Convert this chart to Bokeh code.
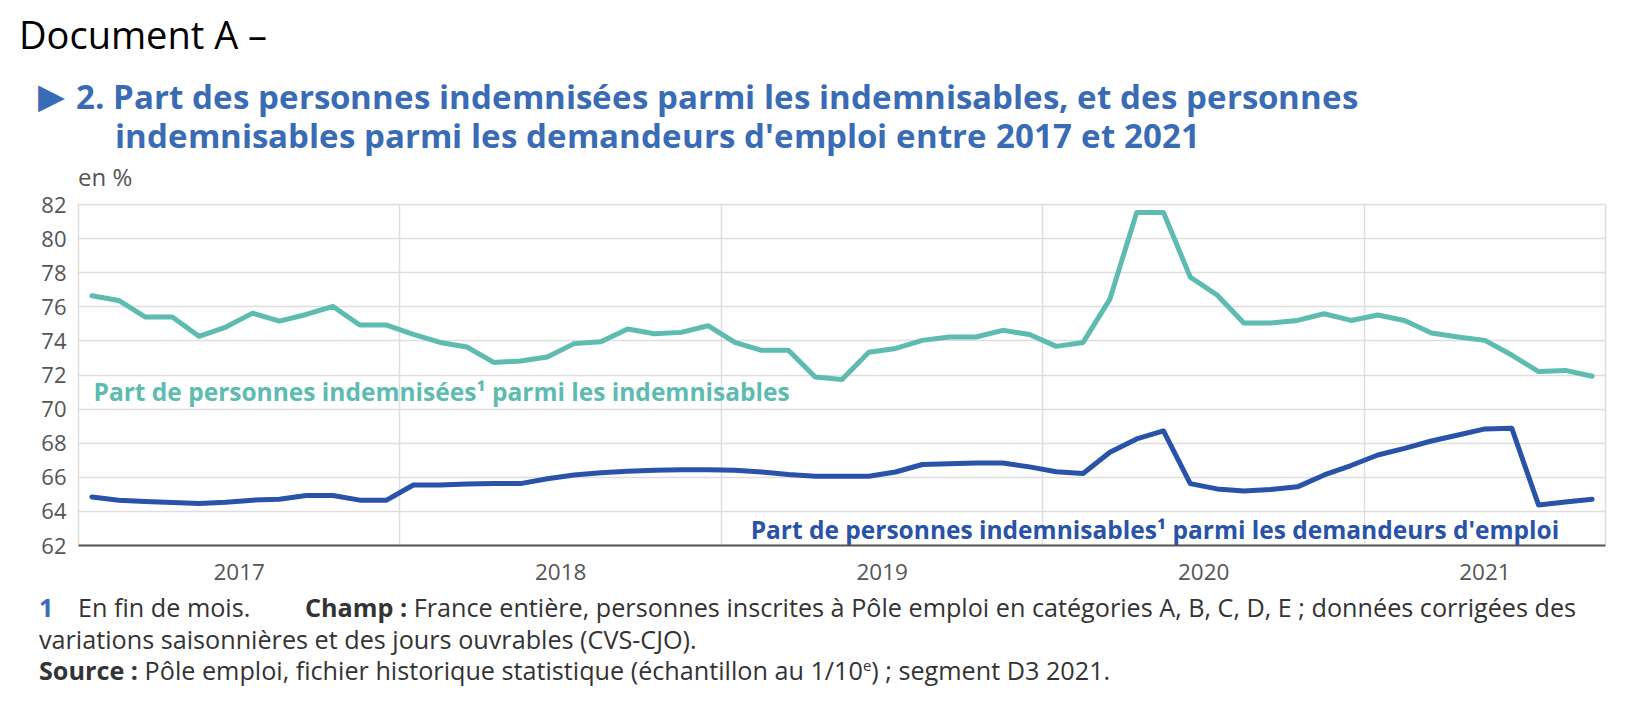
from bokeh.plotting import figure
from bokeh.models import Label, FixedTicker, ColumnDataSource, Div
from bokeh.layouts import column
from bokeh.embed import file_html
from bokeh.resources import INLINE

# ---- data (monthly, Jan 2017 .. Sep 2021) ----
year_labels = ["2017", "2018", "2019", "2020", "2021"]
months_per_year = [12, 12, 12, 12, 9]

part_indemnisees = [76.65, 76.37, 75.4, 75.4, 74.27, 74.81, 75.63, 75.16, 75.55, 76.02,
                    74.93, 74.93, 74.38, 73.91, 73.64, 72.74, 72.82, 73.05, 73.84, 73.95,
                    74.7, 74.42, 74.5, 74.89, 73.91, 73.45, 73.45, 71.88, 71.73, 73.33,
                    73.56, 74.03, 74.23, 74.23, 74.62, 74.38, 73.68, 73.91, 76.45, 81.53,
                    81.53, 77.74, 76.69, 75.05, 75.05, 75.2, 75.59, 75.2, 75.52, 75.2,
                    74.46, 74.23, 74.03, 73.17, 72.2, 72.27, 71.93]

part_indemnisables = [64.85, 64.66, 64.58, 64.52, 64.46, 64.54, 64.66, 64.71, 64.93, 64.93,
                      64.66, 64.66, 65.55, 65.55, 65.61, 65.63, 65.63, 65.91, 66.14, 66.26,
                      66.36, 66.41, 66.45, 66.45, 66.41, 66.31, 66.16, 66.06, 66.06, 66.06,
                      66.31, 66.75, 66.8, 66.84, 66.84, 66.61, 66.33, 66.22, 67.47, 68.25,
                      68.72, 65.63, 65.32, 65.2, 65.28, 65.44, 66.14, 66.69, 67.31, 67.7,
                      68.13, 68.48, 68.84, 68.88, 64.38, 64.55, 64.71]

y_ticks = list(range(62, 83, 2))

# ---- derived positions ----
n = len(part_indemnisees)
months = list(range(n))
starts = []
s = 0
for m in months_per_year:
    starts.append(s)
    s += m
centers = [st + (m - 1) / 2 for st, m in zip(starts, months_per_year)]
boundaries = [st - 0.5 for st in starts[1:]]

TEAL = "#5dbbaf"
BLUE = "#2853a8"
TITLE_BLUE = "#3a6bb5"
GRID = "#dddddd"
GREY = "#555555"
TXT = "#333333"
FONT = "Open Sans"

W = 1626
TOP_H = 187
BOT_H = 96
FIG_H = 403

# ---- header ----
header_html = f"""
<div style="position:relative;width:{W}px;height:{TOP_H}px;font-family:'Open Sans',sans-serif;">
  <div style="position:absolute;left:19px;top:9px;font-size:38px;line-height:50px;color:#000;white-space:nowrap;">Document A –</div>
  <div style="position:absolute;left:38px;top:78px;font-size:35px;line-height:36px;color:{TITLE_BLUE};font-family:'DejaVu Sans';white-space:nowrap;">▶</div>
  <div style="position:absolute;left:76px;top:79px;width:1500px;padding-left:39px;text-indent:-39px;font-family:'OSTitle','Open Sans',sans-serif;font-size:33.3px;line-height:39px;font-weight:700;color:{TITLE_BLUE};">2. Part des personnes indemnisées parmi les indemnisables, et des personnes<br>indemnisables parmi les demandeurs d'emploi entre 2017 et 2021</div>
  <div style="position:absolute;left:78px;top:167px;font-size:24px;line-height:20px;color:{GREY};white-space:nowrap;">en %</div>
</div>
"""
header = Div(text=header_html, width=W, height=TOP_H, margin=0)

# ---- chart ----
p = figure(width=W, height=FIG_H, x_range=(-0.5, n - 0.5), y_range=(62, 82),
           min_border_left=78, min_border_right=21, min_border_top=17, min_border_bottom=45,
           toolbar_location=None, output_backend="svg", margin=0,
           background_fill_color="white", border_fill_color="white")
p.outline_line_color = GRID
p.outline_line_width = 1.5

p.xgrid.ticker = FixedTicker(ticks=boundaries)
p.ygrid.ticker = FixedTicker(ticks=y_ticks)
for g in (p.xgrid, p.ygrid):
    g.grid_line_color = GRID
    g.grid_line_width = 1.5

xa = p.xaxis[0]
xa.ticker = FixedTicker(ticks=centers)
xa.major_label_overrides = {c: lab for c, lab in zip(centers, year_labels)}
xa.axis_line_color = GREY
xa.axis_line_width = 2
xa.major_tick_line_color = None
xa.minor_tick_line_color = None
xa.major_tick_out = 0
xa.major_tick_in = 0
xa.major_label_standoff = 18
xa.major_label_text_font = FONT
xa.major_label_text_font_size = "22.5px"
xa.major_label_text_color = GREY

ya = p.yaxis[0]
ya.ticker = FixedTicker(ticks=y_ticks)
ya.axis_line_color = None
ya.major_tick_line_color = None
ya.minor_tick_line_color = None
ya.major_tick_out = 0
ya.major_tick_in = 0
ya.major_label_standoff = 12
ya.major_label_text_font = FONT
ya.major_label_text_font_size = "22px"
ya.major_label_text_color = GREY

src = ColumnDataSource(dict(m=months, a=part_indemnisees, b=part_indemnisables))
p.line(x="m", y="a", source=src, line_color=TEAL, line_width=5, line_join="round", line_cap="round")
p.line(x="m", y="b", source=src, line_color=BLUE, line_width=5, line_join="round", line_cap="round")

p.add_layout(Label(x=0.06, y=71.05, text="Part de personnes indemnisées¹ parmi les indemnisables",
                   text_baseline="middle", text_align="left", text_font=FONT,
                   text_font_size="24.5px", text_font_style="bold", text_color=TEAL))
p.add_layout(Label(x=54.77, y=62.96, text="Part de personnes indemnisables¹ parmi les demandeurs d'emploi",
                   text_baseline="middle", text_align="right", text_font=FONT,
                   text_font_size="24.5px", text_font_style="bold", text_color=BLUE))

# ---- footer ----
footer_html = f"""
<div style="position:relative;width:{W}px;height:{BOT_H}px;font-family:'Open Sans',sans-serif;font-size:25.2px;line-height:30px;color:{TXT};">
  <div style="position:absolute;left:39px;top:2px;color:{TITLE_BLUE};font-weight:700;white-space:nowrap;">1</div>
  <div style="position:absolute;left:78px;top:2px;white-space:nowrap;">En fin de mois.</div>
  <div style="position:absolute;left:305px;top:2px;white-space:nowrap;"><b>Champ :</b> France entière, personnes inscrites à Pôle emploi en catégories A, B, C, D, E ; données corrigées des</div>
  <div style="position:absolute;left:39px;top:34px;white-space:nowrap;">variations saisonnières et des jours ouvrables (CVS-CJO).</div>
  <div style="position:absolute;left:39px;top:65px;white-space:nowrap;"><b>Source :</b> Pôle emploi, fichier historique statistique (échantillon au 1/10<sup style="font-size:15px;line-height:0;">e</sup>) ; segment D3 2021.</div>
</div>
"""
footer = Div(text=footer_html, width=W, height=BOT_H, margin=0)

layout = column(header, p, footer, spacing=0, margin=0)
html = file_html(layout, INLINE)
font_face = ("<style>@font-face{font-family:'OSTitle';"
             "src:local('Open Sans Bold'),local('OpenSans-Bold');"
             "font-weight:700;ascent-override:88%;descent-override:24%;line-gap-override:0%;}</style>")
html = html.replace("</head>", font_face + "</head>", 1)
open("out.html", "w").write(html)
